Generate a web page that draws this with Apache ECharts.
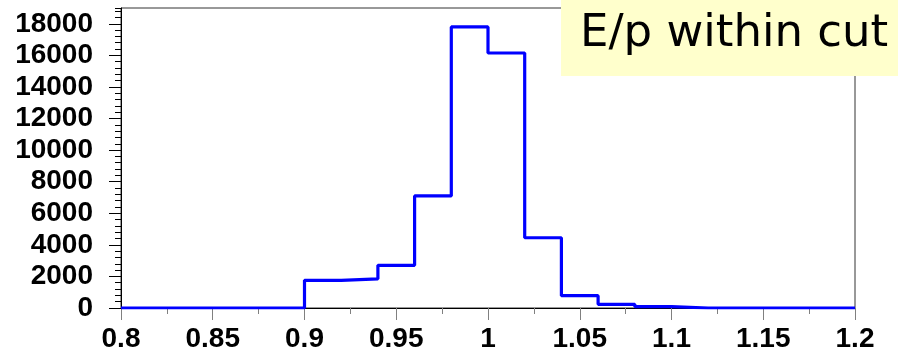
<!DOCTYPE html>
<html><head><meta charset="utf-8">
<script src="https://cdn.jsdelivr.net/npm/echarts@6/dist/echarts.min.js"></script>
<style>html,body{margin:0;padding:0;background:#fff}#c{width:898px;height:349px}</style>
</head><body><div id="c"></div>
<script>
// Bin left edges (width 0.02) from 0.80 to 1.18, plus the right end 1.20
const binEdges = [0.80,0.82,0.84,0.86,0.88,0.90,0.92,0.94,0.96,0.98,1.00,1.02,1.04,1.06,1.08,1.10,1.12,1.14,1.16,1.18,1.20];
const binCounts = [0,0,0,0,0,1750,1850,2700,7100,17800,16150,4450,780,230,90,0,0,0,0,0];
const yTickValues = [0,2000,4000,6000,8000,10000,12000,14000,16000,18000];
const boxText = 'E/p within cut';

const stepData = binCounts.map((v,i)=>[binEdges[i], v]);
stepData.push([binEdges[binEdges.length-1], binCounts[binCounts.length-1]]);

const chart = echarts.init(document.getElementById('c'));
chart.setOption({
  animation:false,
  grid:{left:121,right:43,top:8,bottom:41,show:true,borderColor:'#333',borderWidth:1,outerBoundsMode:'none',containLabel:false},
  xAxis:{type:'value',min:0.8,max:1.2,interval:0.05,
    axisLine:{lineStyle:{color:'#000',width:1}},
    axisTick:{show:true,length:12,lineStyle:{color:'#808080',width:1}},
    minorTick:{show:true,splitNumber:2,length:6,lineStyle:{color:'#808080',width:1}},
    splitLine:{show:false},
    axisLabel:{margin:17,color:'#000',fontFamily:'Liberation Sans',fontWeight:'bold',fontSize:28,
      formatter:v=>String(+v.toFixed(2))}
  },
  yAxis:[{type:'value',min:0,max:19000,interval:2000,
    axisLine:{show:true,lineStyle:{color:'#000',width:1}},
    axisTick:{show:true,length:12,customValues:yTickValues,lineStyle:{color:'#000',width:1}},
    splitLine:{show:false},
    axisLabel:{margin:28,customValues:yTickValues,color:'#000',fontFamily:'Liberation Sans',fontWeight:'bold',fontSize:28,
      formatter:v=>String(v)}
  },{type:'value',min:0,max:19000,interval:400,position:'left',
    axisLine:{show:false},
    axisTick:{show:true,length:6,lineStyle:{color:'#000',width:1}},
    splitLine:{show:false},
    axisLabel:{show:false}
  }],
  series:[{type:'line',step:'end',data:stepData,showSymbol:false,
    lineStyle:{color:'#0000ff',width:3.2},z:5}],
  graphic:[{type:'rect',shape:{x:561,y:0,width:337,height:76},style:{fill:'#ffffcc'},z:100},
    {type:'text',z:101,style:{text:boxText,x:580,y:12,fill:'#000',font:'45px "DejaVu Sans"',textVerticalAlign:'top'}}]
});
</script></body></html>
